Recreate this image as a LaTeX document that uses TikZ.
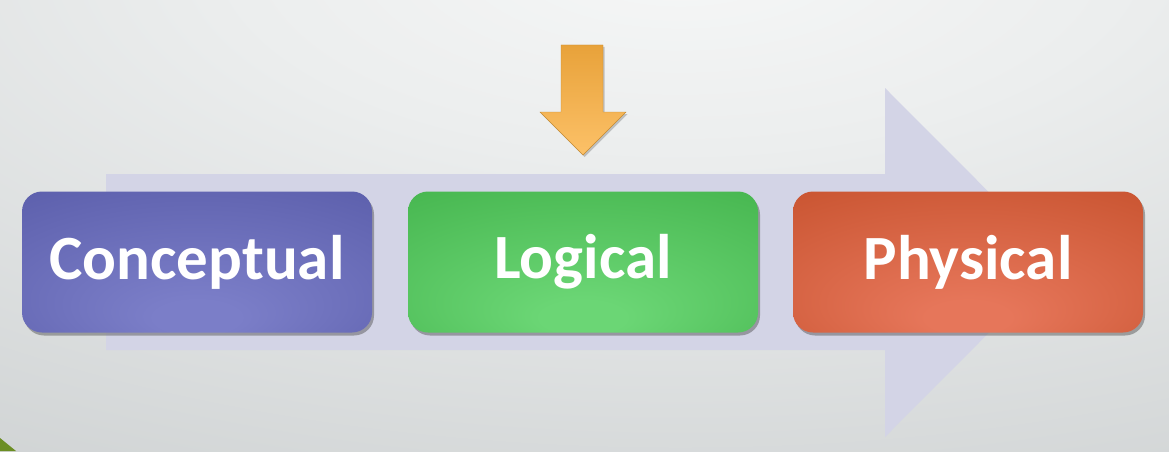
\documentclass[tikz,border=0pt]{standalone}
\usepackage{fontspec}
\setmainfont{Carlito}
\usetikzlibrary{shadows}
\definecolor{bgTop}{HTML}{F6F7F7}
\definecolor{bgMid}{HTML}{ECEEEE}
\definecolor{bgBot}{HTML}{C3C7C8}
\definecolor{flow}{HTML}{D3D4E6}
\definecolor{cEdge}{HTML}{5A5DAA}
\definecolor{cMid}{HTML}{7B7EC8}
\definecolor{lEdge}{HTML}{44B44D}
\definecolor{lMid}{HTML}{6BD675}
\definecolor{pEdge}{HTML}{C7522E}
\definecolor{pMid}{HTML}{E6765A}
\definecolor{oTop}{HTML}{E8A23A}
\definecolor{oBot}{HTML}{FCC168}
\definecolor{leaf}{HTML}{6B8E23}
\pgfdeclareradialshading{cshade}{\pgfpoint{0bp}{-22bp}}{color(0bp)=(cMid); color(6bp)=(cMid); color(44bp)=(cEdge); color(60bp)=(cEdge)}
\pgfdeclareradialshading{lshade}{\pgfpoint{0bp}{-22bp}}{color(0bp)=(lMid); color(6bp)=(lMid); color(44bp)=(lEdge); color(60bp)=(lEdge)}
\pgfdeclareradialshading{pshade}{\pgfpoint{0bp}{-22bp}}{color(0bp)=(pMid); color(6bp)=(pMid); color(44bp)=(pEdge); color(60bp)=(pEdge)}
\pgfdeclareradialshading{bgshade}{\pgfpoint{0bp}{0bp}}{color(0bp)=(bgTop); color(8bp)=(bgMid); color(32bp)=(bgBot); color(50bp)=(bgBot)}
\tikzset{
  stagebox/.style={rounded corners=20pt, minimum width=350pt, minimum height=141pt,
    inner sep=0pt, text=white, font=\fontsize{63}{63}\selectfont\bfseries,
    drop shadow={shadow xshift=2pt, shadow yshift=-3pt, opacity=0.45, fill=black!70}},
}
\begin{document}
\begin{tikzpicture}[x=1pt,y=1pt]
\useasboundingbox (0,0) rectangle (1169,451);
% background
\begin{scope}
  \clip (0,0) rectangle (1169,451);
  \fill[bgBot] (0,0) rectangle (1169,451);
  \shade[shading=bgshade] (680,500) ellipse (1400 and 620);
  \fill[leaf] (0,0) -- (0,13) -- (16,0) -- cycle;
\end{scope}
% large flow arrow
\fill[flow] (106,101) -- (885,101) -- (885,14) -- (1059,188.5) -- (885,363) -- (885,277) -- (106,277) -- cycle;
% stage boxes
\node[stagebox, shading=cshade] (concept) at (197,189) {Conceptual};
\node[stagebox, shading=lshade] (logical) at (583,189) {Logical};
\node[stagebox, shading=pshade] (physical) at (968,189) {Physical};
% orange down arrow
\shade[top color=oTop, bottom color=oBot, draw=oTop!85!black, line width=0.4pt,
  drop shadow={shadow xshift=1.5pt, shadow yshift=-2pt, opacity=0.35, fill=black!60}]
  (561,406) -- (603,406) -- (603,339) -- (626,339) -- (583,296) -- (540,339) -- (561,339) -- cycle;
\end{tikzpicture}
\end{document}
